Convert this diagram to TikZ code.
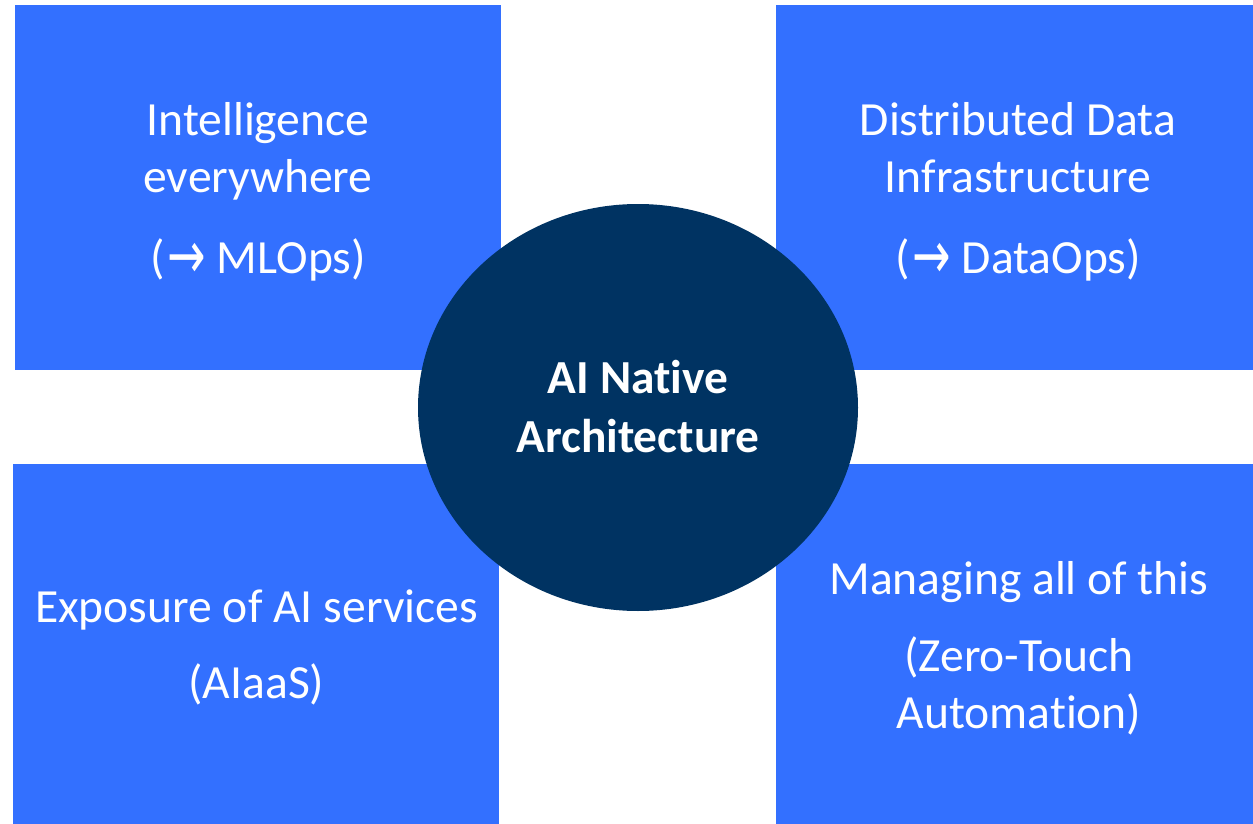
\documentclass[tikz,border=0pt]{standalone}
\usepackage{fontspec}
\usepackage{graphicx}
\setmainfont[Ligatures={NoCommon}]{Carlito}
\newfontfamily\arrowfont{DejaVu Sans}
\usetikzlibrary{shapes.geometric}
\definecolor{boxblue}{RGB}{51,112,255}
\definecolor{navy}{RGB}{0,51,98}
\newcommand{\rarr}{{\arrowfont\fontsize{46}{56}\selectfont\kern3pt\raisebox{-5pt}{\scalebox{1}[1.45]{→}}}}
\tikzset{
  quad/.style={fill=boxblue, draw=none},
  lbl/.style={anchor=base, text=white, inner sep=0pt, font=\fontsize{47.6}{57}\selectfont},
  hub/.style={ellipse, fill=navy, draw=none, minimum width=440pt, minimum height=407pt, inner sep=0pt},
  hubtxt/.style={anchor=base, text=white, inner sep=0pt, font=\fontsize{47.4}{57}\selectfont\bfseries}
}
\begin{document}
\begin{tikzpicture}[x=1pt,y=-1pt]
\useasboundingbox (0,0) rectangle (1253,824);
\fill[white] (0,0) rectangle (1253,824);
% quadrant boxes
\path[quad] (15,5) rectangle (501,370) node[pos=0.5] (tl) {};
\path[quad] (776,5) rectangle (1253,370) node[pos=0.5] (tr) {};
\path[quad] (13,464) rectangle (499,824) node[pos=0.5] (bl) {};
\path[quad] (776,464) rectangle (1253,824) node[pos=0.5] (br) {};
% top-left text
\node[lbl] (tl1) at (258,136) {Intelligence};
\node[lbl] (tl2) at (258,193) {everywhere};
\node[lbl] (tl3) at (258,273) {(\rarr{} MLOps)};
% top-right text
\node[lbl] (tr1) at (1018,136) {Distributed Data};
\node[lbl] (tr2) at (1018,193) {Infrastructure};
\node[lbl] (tr3) at (1018,273) {(\rarr{} DataOps)};
% bottom-left text
\node[lbl] (bl1) at (256.5,622) {Exposure of AI services};
\node[lbl] (bl2) at (256.5,698) {(AIaaS)};
% bottom-right text
\node[lbl] (br1) at (1019,594) {Managing all of this};
\node[lbl] (br2) at (1019,671) {(Zero-Touch};
\node[lbl] (br3) at (1019,728) {Automation)};
% hub
\node[hub] (hub) at (638,407.5) {};
\node[hubtxt] (hub1) at (638,393) {AI Native};
\node[hubtxt] (hub2) at (638,452) {Architecture};
\end{tikzpicture}
\end{document}
